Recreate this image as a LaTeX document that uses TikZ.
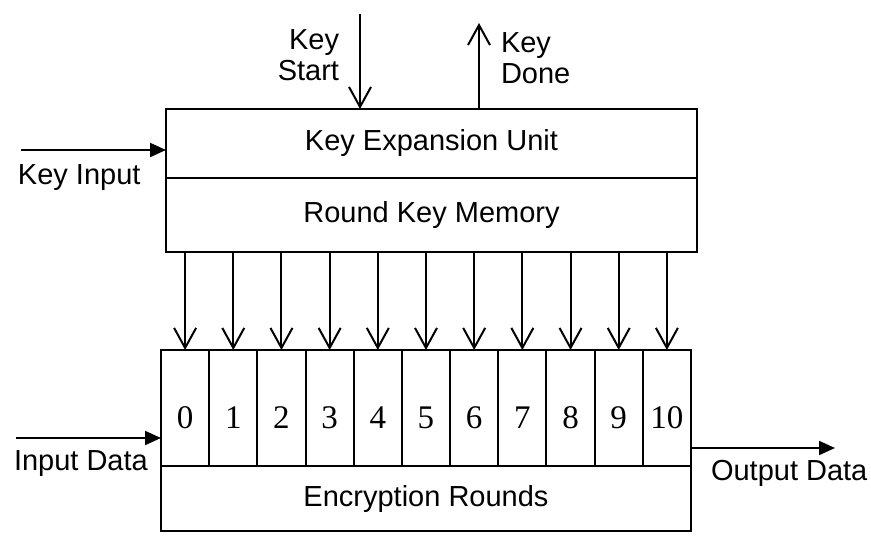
\documentclass[tikz,border=0pt]{standalone}
\usepackage{fontspec}
\setmainfont{Liberation Sans}
\newfontfamily\numfont{Liberation Serif}
\usetikzlibrary{arrows.meta,positioning}

\begin{document}
\begin{tikzpicture}[x=0.5pt,y=-0.5pt,line width=1pt,
  box/.style={draw,minimum width=265.5pt,inner sep=0pt,outer sep=0pt,font=\fontsize{14.5}{16}\selectfont},
  cell/.style={draw,minimum width=24.09pt,minimum height=58pt,inner sep=0pt,outer sep=0pt,text height=20pt,text depth=0pt,font=\numfont\fontsize{16.5}{17}\selectfont},
  lbl/.style={font=\fontsize{14.5}{15.5}\selectfont,inner sep=0pt},
  keyarrow/.style={-{Straight Barb[length=10pt,width=11pt]}},
  dataarrow/.style={-{Triangle[length=8pt,width=7pt]}}]
\useasboundingbox (0,0) rectangle (871,535);
\node[box,minimum height=34.5pt] (keu) at (431.5,143.5) {Key Expansion Unit};
\node[box,minimum height=37pt,below=0pt of keu] (rkm) {Round Key Memory};
\foreach \i in {0,...,10}{\node[cell] (c\i) at ({185.09+48.18*\i},408) {\i};}
\node[box,minimum width=265pt,minimum height=32.5pt,anchor=north west] (enc) at (c0.south west) {Encryption Rounds};
\foreach \i in {0,...,10}{\draw[keyarrow] (c\i.north |- rkm.south) -- (c\i.north);}
\coordinate (ks) at (360,14);
\draw[keyarrow] (ks) -- (ks |- keu.north);
\node[lbl,align=right,anchor=east] (kslbl) at (340,55) {Key\\Start};
\coordinate (kd) at (479,23);
\draw[keyarrow] (kd |- keu.north) -- (kd);
\node[lbl,align=left,anchor=west] (kdlbl) at (500,58) {Key\\Done};
\coordinate (ki) at (21,150);
\draw[dataarrow] (ki) -- (ki -| keu.west);
\node[lbl,anchor=west] (kilbl) at (17,178) {Key Input};
\coordinate (id) at (16,438);
\draw[dataarrow] (id) -- (id -| c0.west);
\node[lbl,anchor=west] (idlbl) at (13,464) {Input Data};
\coordinate (od) at (835,448);
\draw[dataarrow] (od -| c10.east) -- (od);
\node[lbl,anchor=west] (odlbl) at (710,473) {Output Data};
\end{tikzpicture}
\end{document}
